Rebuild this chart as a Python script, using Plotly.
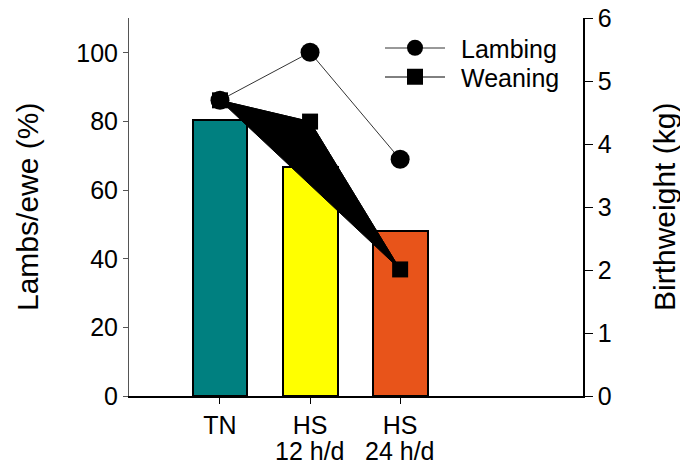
import plotly.graph_objects as go

categories = ["TN", "HS", "HS"]
sublabels = ["", "12 h/d", "24 h/d"]
x_pos = [0, 1, 2]
birthweight = [4.38, 3.64, 2.62]
lambing = [86.2, 100.2, 69.0]
weaning = [86.2, 80.0, 36.9]
bar_colors = ["#008080", "#FFFF00", "#E8541A"]
left_ticks = [0, 20, 40, 60, 80, 100]
right_ticks = [0, 1, 2, 3, 4, 5, 6]

FONT = "Liberation Sans, Arial, sans-serif"
L, R, T, B = 129, 97, 18, 68
PW = 680 - L - R
PH = 464 - T - B

fig = go.Figure()
fig.add_trace(go.Bar(
    x=x_pos, y=birthweight, width=0.61, yaxis="y",
    marker=dict(color=bar_colors, line=dict(color="black", width=2)),
    showlegend=False,
))
# filled polygon as in original
fig.add_trace(go.Scatter(
    x=x_pos + [x_pos[0]], y=weaning + [weaning[0]], yaxis="y2",
    mode="lines", fill="toself", fillcolor="black",
    line=dict(color="black", width=1), showlegend=False, hoverinfo="skip",
))
fig.add_trace(go.Scatter(
    x=x_pos, y=lambing, yaxis="y2", name="Lambing",
    mode="lines+markers", showlegend=False,
    line=dict(color="#333333", width=1),
    marker=dict(symbol="circle", size=19, color="black"),
))
fig.add_trace(go.Scatter(
    x=x_pos, y=weaning, yaxis="y2", name="Weaning",
    mode="lines+markers", showlegend=False,
    line=dict(color="black", width=1),
    marker=dict(symbol="square", size=16, color="black"),
))
# legend entries (marker only; legend lines drawn as shapes)
fig.add_trace(go.Scatter(
    x=[None], y=[None], yaxis="y2", name="Lambing", mode="markers",
    legend="legend", marker=dict(symbol="circle", size=19, color="black"),
))
fig.add_trace(go.Scatter(
    x=[None], y=[None], yaxis="y2", name="Weaning", mode="markers",
    legend="legend2", marker=dict(symbol="square", size=16, color="black"),
))

def px_x(p):
    return (p - L) / PW

def px_y(p):
    return 1 - (p - T) / PH

annotations = [
    dict(text="Lambs/ewe (%)", x=px_x(27), y=0.5, xref="paper", yref="paper",
         textangle=-90, showarrow=False, xanchor="center", yanchor="middle",
         font=dict(size=30)),
    dict(text="Birthweight (kg)", x=px_x(664), y=0.5, xref="paper", yref="paper",
         textangle=-90, showarrow=False, xanchor="center", yanchor="middle",
         font=dict(size=30)),
]
for xv, sl in zip(x_pos, sublabels):
    if sl:
        annotations.append(dict(
            text=sl, x=xv, y=px_y(451), xref="x", yref="paper",
            showarrow=False, xanchor="center", yanchor="middle",
            borderpad=0, font=dict(size=25)))

shapes = [
    dict(type="line", xref="paper", yref="paper", x0=px_x(385), x1=px_x(445),
         y0=px_y(48), y1=px_y(48), line=dict(color="#333333", width=1)),
    dict(type="line", xref="paper", yref="paper", x0=px_x(385), x1=px_x(445),
         y0=px_y(77), y1=px_y(77), line=dict(color="black", width=1)),
]

LEG_X = 369
fig.update_layout(
    width=680, height=464,
    margin=dict(l=L, r=R, t=T, b=B, autoexpand=False),
    paper_bgcolor="white", plot_bgcolor="white",
    font=dict(family=FONT, size=25, color="black"),
    xaxis=dict(
        range=[-1.01, 4.03], tickvals=x_pos, ticktext=categories,
        showline=True, linecolor="black", linewidth=2,
        ticks="outside", ticklen=6, tickcolor="black",
        showgrid=False, zeroline=False, automargin=False,
        tickfont=dict(size=25),
    ),
    yaxis=dict(
        side="right", range=[0, 6.0], tickvals=right_ticks,
        showline=True, linecolor="black", linewidth=1.5,
        ticks="outside", ticklen=8, tickcolor="black",
        showgrid=False, zeroline=False, automargin=False,
        tickfont=dict(size=25),
    ),
    yaxis2=dict(
        side="left", overlaying="y", range=[0, 110.2], tickvals=left_ticks,
        showline=True, linecolor="#555555", linewidth=1,
        ticks="outside", ticklen=5, tickcolor="#555555",
        showgrid=False, zeroline=False, automargin=False,
        tickfont=dict(size=25),
    ),
    legend=dict(
        x=px_x(LEG_X), y=px_y(48), xanchor="left", yanchor="middle",
        bgcolor="rgba(0,0,0,0)", font=dict(size=25), itemwidth=82,
    ),
    legend2=dict(
        x=px_x(LEG_X), y=px_y(77), xanchor="left", yanchor="middle",
        bgcolor="rgba(0,0,0,0)", font=dict(size=25), itemwidth=82,
    ),
    annotations=annotations,
    shapes=shapes,
    bargap=0,
)

fig.write_html("out.html")
